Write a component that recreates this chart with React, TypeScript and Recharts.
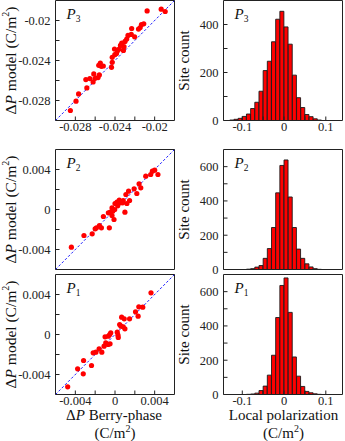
import React from "react";
import {
  ScatterChart, Scatter, ComposedChart, Bar, XAxis, YAxis, ReferenceLine,
} from "recharts";

// ΔP from Berry phase (x) against ΔP from the model (y), C/m²
const P3_BERRY = [
  -0.0285, -0.02793, -0.02767, -0.02684, -0.02694, -0.02654, -0.02621, -0.02614, -0.02601, -0.02571,
  -0.02558, -0.02564, -0.02548, -0.02538, -0.02518, -0.02435, -0.02428, -0.02428, -0.02402, -0.02385,
  -0.02405, -0.02375, -0.02358, -0.02345, -0.02332, -0.02315, -0.02309, -0.02299, -0.02282, -0.02269,
  -0.02236, -0.02232, -0.02202, -0.02163, -0.02146, -0.02133, -0.0211, -0.02076, -0.01934, -0.01894,
];
const P3_MODEL = [
  -0.029, -0.02807, -0.02734, -0.02674, -0.02591, -0.02581, -0.02614, -0.02534, -0.02578, -0.02571,
  -0.02544, -0.02448, -0.02425, -0.02458, -0.02455, -0.02468, -0.02418, -0.02368, -0.02342, -0.02329,
  -0.02285, -0.02302, -0.02285, -0.02249, -0.02226, -0.02299, -0.02262, -0.02209, -0.02186, -0.02149,
  -0.02139, -0.0208, -0.02163, -0.02086, -0.0207, -0.0204, -0.02033, -0.01904, -0.01887, -0.0191,
];

const P2_BERRY = [
  -0.0044, -0.00313, -0.0023, -0.002, -0.00187, -0.00157, -0.00137, -0.00117, -0.00057, -0.00067,
  -0.00047, -0.0003, -0.0003, -0.0001, -0.00023, -0.00003, 0.0, 0.0002, 0.00027, 0.00043,
  0.00053, 0.00077, 0.00083, 0.001, 0.0011, 0.0012, 0.00137, 0.00147, 0.00193, 0.0022,
  0.00243, 0.0026, 0.0031, 0.0036, 0.00377, 0.004, 0.00433,
];
const P2_MODEL = [
  -0.00377, -0.0026, -0.00243, -0.00193, -0.00183, -0.0016, -0.00183, -0.0007, -0.00183, -0.00033,
  -0.00027, 0.00017, -0.0006, -0.001, -0.00017, 0.0, 0.0006, 0.00073, 0.00037, 0.00093,
  0.00067, 0.00067, 0.0009, -0.00027, 0.0015, 0.0006, 0.00183, 0.0009, 0.00207, 0.0016,
  0.00257, 0.00217, 0.00333, 0.0035, 0.00383, 0.00393, 0.0035,
];

const P1_BERRY = [
  -0.00477, -0.00377, -0.00317, -0.0032, -0.00237, -0.0022, -0.00193, -0.0016, -0.00133, -0.0011,
  -0.001, -0.00093, -0.0007, -0.00067, -0.00053, -0.00043, -0.0005, 0.0003, 0.00033, 0.00023,
  0.00047, 0.0006, 0.00067, 0.00093, 0.00083, 0.001, 0.00147, 0.00207, 0.00233, 0.0024,
  0.0028, 0.00363,
];
const P1_MODEL = [
  -0.00523, -0.00343, -0.0026, -0.00393, -0.0031, -0.00183, -0.00177, -0.00143, -0.00177, -0.00117,
  -0.00023, -0.00083, -0.001, -0.00017, 0.0, 0.00017, -0.00093, -0.00007, -0.0003, 0.00023,
  0.001, 0.00083, 0.00173, 0.00157, 0.00077, 0.00057, 0.00157, 0.00227, 0.00183, 0.00277,
  0.00273, 0.00417,
];

// local polarization histograms, bin centres (C/m²) and site counts
const HIST_BINS = [
  -0.125, -0.115, -0.105, -0.095, -0.085, -0.075, -0.065, -0.055, -0.045, -0.035, -0.025, -0.015,
  -0.005, 0.005, 0.015, 0.025, 0.035, 0.045, 0.055, 0.065, 0.075, 0.085, 0.095,
];
const P3_COUNTS = [2, 5, 9, 17, 27, 50, 76, 122, 208, 247, 328, 422, 455, 390, 318, 189, 95, 54, 25, 16, 7, 2, 0];
const P2_COUNTS = [0, 0, 0, 0, 2, 5, 14, 23, 65, 122, 245, 447, 607, 639, 423, 245, 119, 65, 33, 15, 5, 1, 0];
const P1_COUNTS = [0, 0, 0, 0, 1, 3, 8, 23, 49, 113, 229, 449, 636, 680, 479, 219, 107, 47, 18, 10, 4, 1, 0];

const P3_TICKS = [-0.028, -0.026, -0.024, -0.022, -0.02];
const P3_TICK_TEXT = ["-0.028", "", "-0.024", "", "-0.02"];
const SMALL_TICKS = [-0.004, -0.002, 0, 0.002, 0.004];
const SMALL_TICK_TEXT = ["-0.004", "", "0", "", "0.004"];
const HIST_X_TICKS = [-0.1, -0.05, 0, 0.05, 0.1];
const HIST_X_TEXT = ["-0.1", "", "0", "", "0.1"];
const P3_COUNT_TICKS = [0, 100, 200, 300, 400];
const P3_COUNT_TEXT = ["0", "", "200", "", "400"];
const COUNT_TICKS = [0, 100, 200, 300, 400, 500, 600];
const COUNT_TEXT = ["0", "", "200", "", "400", "", "600"];

const FONT = '"Liberation Serif", "Times New Roman", serif';
const INK = "#222";
const RED = "#ff0000";

const PLOT_W = 119;
const PLOT_H = 120;
const LEFT_COL = 55.5;
const RIGHT_COL = 223.5;
const ROWS = [0.5, 149.5, 274.5];

const labeler = (ticks: number[], text: string[]) => (v: number) => {
  const i = ticks.findIndex((t) => Math.abs(t - v) < 1e-9);
  return i >= 0 ? text[i] : "";
};

const tickStyle = { fontFamily: FONT, fontSize: 12.5, fill: INK };

function frame(
  xDomain: [number, number], xTicks: number[], xText: string[],
  yDomain: [number, number], yTicks: number[], yText: string[],
  showX: boolean, xKey?: string, yKey?: string,
) {
  const line = { stroke: INK, strokeWidth: 1 };
  return [
    <XAxis key="xb" xAxisId="b" type="number" dataKey={xKey} domain={xDomain} ticks={xTicks}
      allowDataOverflow interval={0} height={30} tickSize={-4} tickMargin={6}
      tickFormatter={labeler(xTicks, xText)} tick={showX ? tickStyle : false} axisLine={line} tickLine={line} />,
    <XAxis key="xt" xAxisId="t" type="number" orientation="top" domain={xDomain} ticks={xTicks}
      allowDataOverflow interval={0} height={1} tickSize={-4} tick={false} axisLine={line} tickLine={line} />,
    <YAxis key="yl" yAxisId="l" type="number" dataKey={yKey} domain={yDomain} ticks={yTicks}
      allowDataOverflow interval={0} width={50} tickSize={-4} tickMargin={9}
      tickFormatter={labeler(yTicks, yText)} tick={tickStyle} axisLine={line} tickLine={line} />,
    <YAxis key="yr" yAxisId="r" type="number" orientation="right" domain={yDomain} ticks={yTicks}
      allowDataOverflow interval={0} width={1} tickSize={-4} tick={false} axisLine={line} tickLine={line} />,
  ];
}

const CHART_W = 55.5 + PLOT_W + 1 + 0.5;
const CHART_H = 1.5 + PLOT_H + 30 + 0.5;
const MARGIN = { top: 0.5, right: 0.5, bottom: 0.5, left: 5.5 };

function ScatterPanel({ top, berry, model, domain, ticks, text, showX }: {
  top: number; berry: number[]; model: number[]; domain: [number, number]; ticks: number[]; text: string[];
  showX: boolean;
}) {
  const data = berry.map((x, i) => ({ x, y: model[i] }));
  return (
    <div style={{ position: "absolute", left: LEFT_COL - 55.5, top: top - 1.5 }}>
      <ScatterChart width={CHART_W} height={CHART_H} margin={MARGIN}>
        {frame(domain, ticks, text, domain, ticks, text, showX, "x", "y")}
        <ReferenceLine xAxisId="b" yAxisId="l" ifOverflow="visible"
          segment={[{ x: domain[0], y: domain[0] }, { x: domain[1], y: domain[1] }]}
          stroke="#1f1fff" strokeWidth={1} strokeDasharray="2.5 2" />
        <Scatter xAxisId="b" yAxisId="l" data={data} isAnimationActive={false}
          shape={(p: any) => <circle cx={p.cx} cy={p.cy} r={2.6} fill={RED} />} />
      </ScatterChart>
    </div>
  );
}

function HistPanel({ top, counts, yDomain, yTicks, yText, showX }: {
  top: number; counts: number[]; yDomain: [number, number]; yTicks: number[]; yText: string[];
  showX: boolean;
}) {
  const data = HIST_BINS.map((x, i) => ({ x, n: counts[i] }));
  return (
    <div style={{ position: "absolute", left: RIGHT_COL - 55.5, top: top - 1.5 }}>
      <ComposedChart width={CHART_W} height={CHART_H} margin={MARGIN} data={data}
        barCategoryGap={0} barGap={0}>
        {frame([-0.145, 0.14], HIST_X_TICKS, HIST_X_TEXT, yDomain, yTicks, yText, showX, "x")}
        <Bar xAxisId="b" yAxisId="l" dataKey="n" fill={RED} stroke="#1a1a1a" strokeWidth={0.9}
          isAnimationActive={false} />
      </ComposedChart>
    </div>
  );
}

function Tag({ x, y, sub }: { x: number; y: number; sub: string }) {
  return (
    <text x={x} y={y} fontFamily={FONT} fontSize={15} fill="#111">
      <tspan fontStyle="italic">P</tspan>
      <tspan fontSize={9.5} dy={2.5}>{sub}</tspan>
    </text>
  );
}

function Unit({ x, y }: { x: number; y: number }) {
  return (
    <text x={x} y={y} textAnchor="middle" dominantBaseline="central" fontFamily={FONT} fontSize={15} fill="#111">
      (C/m<tspan fontSize={10} dy={-5.5}>2</tspan><tspan dy={5.5}>)</tspan>
    </text>
  );
}

export default function App() {
  const rowCenter = ROWS.map((t) => t + PLOT_H / 2);
  return (
    <div style={{ position: "absolute", left: 0, top: 0, width: 345, height: 441, background: "#fff" }}>
      <ScatterPanel top={ROWS[0]} berry={P3_BERRY} model={P3_MODEL} domain={[-0.03, -0.018]}
        ticks={P3_TICKS} text={P3_TICK_TEXT} showX />
      <ScatterPanel top={ROWS[1]} berry={P2_BERRY} model={P2_MODEL} domain={[-0.006, 0.006]}
        ticks={SMALL_TICKS} text={SMALL_TICK_TEXT} showX={false} />
      <ScatterPanel top={ROWS[2]} berry={P1_BERRY} model={P1_MODEL} domain={[-0.006, 0.006]}
        ticks={SMALL_TICKS} text={SMALL_TICK_TEXT} showX />
      <HistPanel top={ROWS[0]} counts={P3_COUNTS} yDomain={[0, 500]} yTicks={P3_COUNT_TICKS}
        yText={P3_COUNT_TEXT} showX />
      <HistPanel top={ROWS[1]} counts={P2_COUNTS} yDomain={[0, 700]} yTicks={COUNT_TICKS}
        yText={COUNT_TEXT} showX={false} />
      <HistPanel top={ROWS[2]} counts={P1_COUNTS} yDomain={[0, 700]} yTicks={COUNT_TICKS}
        yText={COUNT_TEXT} showX />

      <svg width={345} height={441} style={{ position: "absolute", left: 0, top: 0, pointerEvents: "none" }}>
        {rowCenter.map((cy, i) => (
          <g key={i}>
            <text transform={`translate(10, ${cy}) rotate(-90)`} textAnchor="middle" dominantBaseline="central"
              fontFamily={FONT} fontSize={15.5} fill="#111">
              Δ<tspan fontStyle="italic">P</tspan> model (C/m<tspan fontSize={10} dy={-5.5}>2</tspan><tspan dy={5.5}>)</tspan>
            </text>
            <text transform={`translate(184, ${cy}) rotate(-90)`} textAnchor="middle" dominantBaseline="central"
              fontFamily={FONT} fontSize={15} fill="#111">
              Site count
            </text>
          </g>
        ))}
        {["3", "2", "1"].map((s, i) => (
          <g key={s}>
            <Tag x={LEFT_COL + 11} y={ROWS[i] + 18.5} sub={s} />
            <Tag x={RIGHT_COL + 11} y={ROWS[i] + 18.5} sub={s} />
          </g>
        ))}
        <text x={114} y={415} textAnchor="middle" dominantBaseline="central" fontFamily={FONT} fontSize={15} fill="#111">
          Δ<tspan fontStyle="italic">P</tspan> Berry-phase
        </text>
        <Unit x={115} y={433} />
        <text x={283.5} y={415} textAnchor="middle" dominantBaseline="central" fontFamily={FONT} fontSize={15} fill="#111">
          Local polarization
        </text>
        <Unit x={283.5} y={433} />
      </svg>
    </div>
  );
}
